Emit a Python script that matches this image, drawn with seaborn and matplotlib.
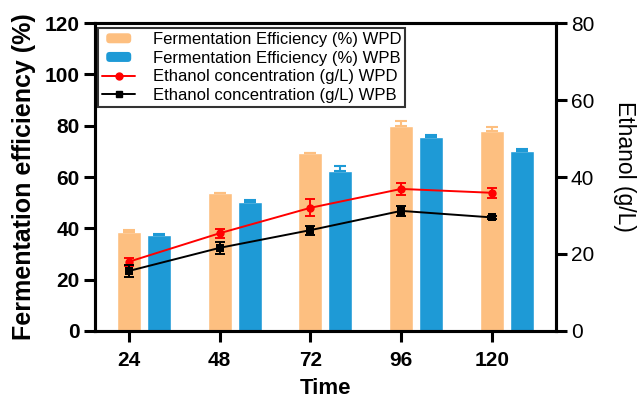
import numpy as np
import pandas as pd
import matplotlib
matplotlib.use("Agg")
import matplotlib.pyplot as plt
import seaborn as sns
from matplotlib.patches import Patch, FancyBboxPatch
from matplotlib.lines import Line2D
from matplotlib.legend_handler import HandlerPatch

times = [24, 48, 72, 96, 120]
fe_wpd = [38.7, 53.6, 69.2, 79.9, 78.0]
fe_wpd_err = [0.6, 0.3, 0.3, 1.9, 1.4]
fe_wpb = [37.4, 50.4, 62.5, 75.7, 70.2]
fe_wpb_err = [0.3, 0.6, 1.8, 0.7, 0.8]
eth_wpd = [18.0, 25.4, 32.0, 36.9, 35.9]
eth_wpd_err = [1.0, 1.2, 2.25, 1.6, 1.3]
eth_wpb = [15.6, 21.6, 26.2, 31.2, 29.5]
eth_wpb_err = [1.5, 1.5, 1.2, 1.3, 0.3]

c_wpd = "#FDBF80"
c_wpb = "#1E9AD6"

sns.set_style("ticks")
plt.rcParams["font.family"] = ["Liberation Sans", "DejaVu Sans"]
for key in ("text.color", "axes.labelcolor", "xtick.color", "ytick.color", "axes.edgecolor"):
    plt.rcParams[key] = "black"

df = pd.DataFrame({
    "Time": times * 2,
    "FE": fe_wpd + fe_wpb,
    "Sample": ["WPD"] * 5 + ["WPB"] * 5,
})

fig = plt.figure(figsize=(6.38, 4.01), dpi=100)
ax = fig.add_axes([0.149, 0.1746, 0.722, 0.768])

width = 0.66
sns.barplot(data=df, x="Time", y="FE", hue="Sample", hue_order=["WPD", "WPB"],
            palette=[c_wpd, c_wpb], width=width, gap=0.2, ax=ax, legend=False,
            errorbar=None, saturation=1)

off = width / 4
x = np.arange(len(times))
ax.errorbar(x - off, fe_wpd, yerr=[np.zeros(5), fe_wpd_err], fmt="none",
            ecolor=c_wpd, elinewidth=1.5, capsize=4.5, capthick=1.5, zorder=1)
ax.errorbar(x + off, fe_wpb, yerr=[np.zeros(5), fe_wpb_err], fmt="none",
            ecolor=c_wpb, elinewidth=1.5, capsize=4.5, capthick=1.5, zorder=1)

ax.set_ylim(0, 120)
ax.set_yticks(range(0, 121, 20))
ax.set_xlim(-0.539, 4.538)
ax.set_xticks(x - off)
ax.set_xticklabels([str(t) for t in times])

ax2 = ax.twinx()
eth_df = pd.DataFrame({"pos": np.concatenate([x - off, x - off]),
                       "eth": eth_wpd + eth_wpb,
                       "Sample": ["WPD"] * 5 + ["WPB"] * 5})
sns.lineplot(data=eth_df, x="pos", y="eth", hue="Sample", style="Sample",
             hue_order=["WPD", "WPB"], palette=["#FF0000", "#000000"],
             markers={"WPD": "o", "WPB": "s"}, dashes=False, markersize=6,
             markeredgewidth=0, linewidth=1.4, ax=ax2, legend=False)
ax2.errorbar(x - off, eth_wpd, yerr=eth_wpd_err, fmt="none", ecolor="#FF0000",
             elinewidth=1.4, capsize=3.5, capthick=1.4)
ax2.errorbar(x - off, eth_wpb, yerr=eth_wpb_err, fmt="none", ecolor="#000000",
             elinewidth=1.4, capsize=3.5, capthick=1.4)
ax2.set_ylim(0, 80)
ax2.set_yticks(range(0, 81, 20))
ax2.set_xlim(-0.539, 4.538)

for a in (ax, ax2):
    for s in a.spines.values():
        s.set_linewidth(2.2)
        s.set_color("black")
    a.tick_params(width=2.2, length=8, pad=3, colors="black")

ax.tick_params(axis="x", pad=6.5)
ax.tick_params(axis="both", labelsize=15)
for lab in ax.get_xticklabels() + ax.get_yticklabels():
    lab.set_fontweight("bold")
ax2.tick_params(axis="y", labelsize=15)
ax2.set_xlabel("")

ax.set_xlabel("Time", fontsize=16, fontweight="bold", labelpad=6)
ax.set_ylabel("Fermentation efficiency (%)", fontsize=18, fontweight="bold", labelpad=6)
ax2.set_ylabel("Ethanol (g/L)", fontsize=16.5, rotation=270)
ax2.yaxis.set_label_coords(1.175, 0.535)


def rounded_patch(legend, orig_handle, xdescent, ydescent, width, height, fontsize):
    w, h = 18.0, 7.2
    x0 = -xdescent + (width - w) / 2
    y0 = -ydescent + (height - h) / 2
    return FancyBboxPatch((x0, y0), w, h, boxstyle="round,pad=0,rounding_size=2.5",
                          facecolor=orig_handle.get_facecolor(), edgecolor="none")


handles = [
    Patch(facecolor=c_wpd, edgecolor="none"),
    Patch(facecolor=c_wpb, edgecolor="none"),
    Line2D([], [], color="#FF0000", marker="o", markersize=5, lw=1.4),
    Line2D([], [], color="#000000", marker="s", markersize=5, lw=1.4),
]
labels = ["Fermentation Efficiency (%) WPD", "Fermentation Efficiency (%) WPB",
          "Ethanol concentration (g/L) WPD", "Ethanol concentration (g/L) WPB"]
leg = ax2.legend(handles, labels, loc="upper left", bbox_to_anchor=(0.0065, 0.984),
                 borderaxespad=0, fontsize=12.0, frameon=True, fancybox=False,
                 handlelength=1.98, handletextpad=1.05, labelspacing=0.22,
                 borderpad=0.25, handler_map={Patch: HandlerPatch(patch_func=rounded_patch)})
leg.get_frame().set_edgecolor("black")
leg.get_frame().set_linewidth(1.5)

fig.savefig("out.png", dpi=100)
